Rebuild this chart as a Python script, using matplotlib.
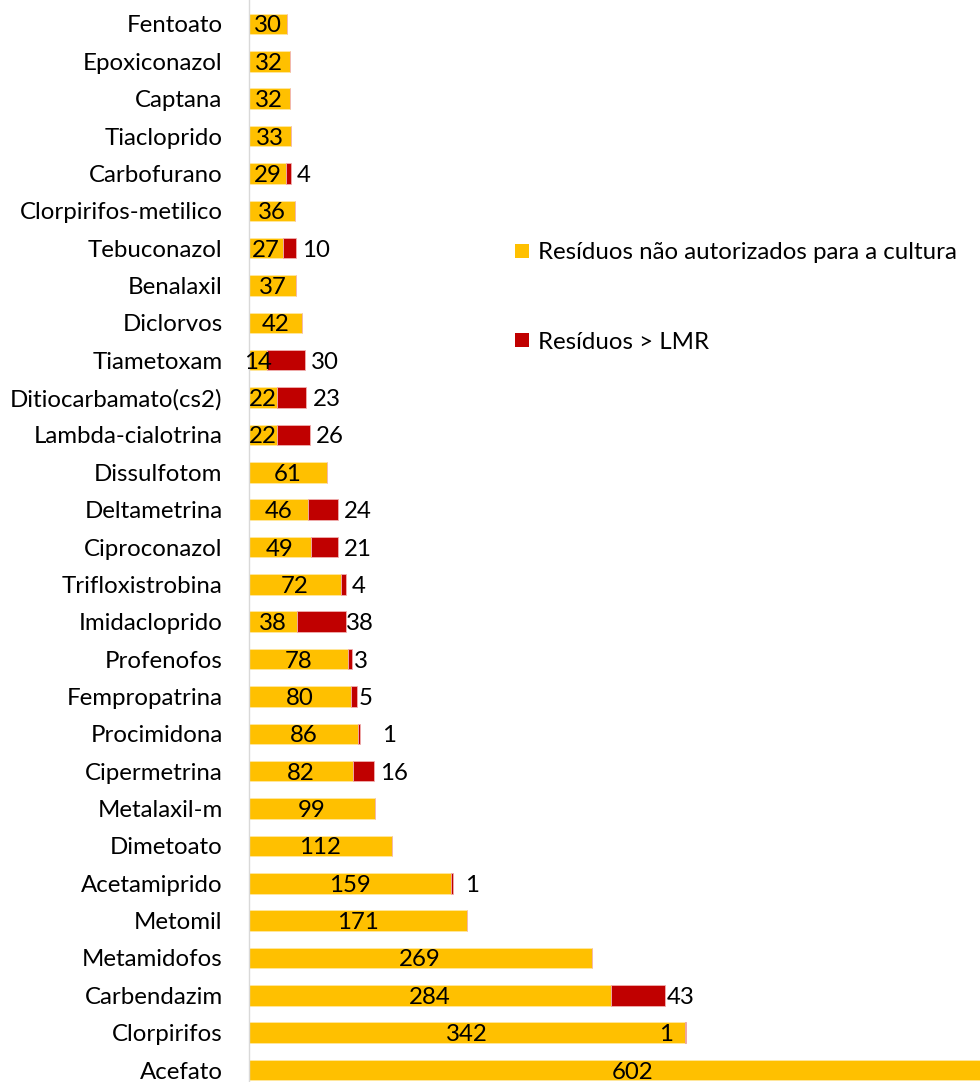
import matplotlib.pyplot as plt
from matplotlib.patches import Patch

plt.rcParams['font.family'] = ['Lato', 'DejaVu Sans']

YELLOW = "#FFC000"
RED = "#C00000"
INK = "#000000"
FS = 17.3

categories = [
    "Fentoato", "Epoxiconazol", "Captana", "Tiacloprido", "Carbofurano",
    "Clorpirifos-metilico", "Tebuconazol", "Benalaxil", "Diclorvos", "Tiametoxam",
    "Ditiocarbamato(cs2)", "Lambda-cialotrina", "Dissulfotom", "Deltametrina",
    "Ciproconazol", "Trifloxistrobina", "Imidacloprido", "Profenofos",
    "Fempropatrina", "Procimidona", "Cipermetrina", "Metalaxil-m", "Dimetoato",
    "Acetamiprido", "Metomil", "Metamidofos", "Carbendazim", "Clorpirifos", "Acefato",
]
nao_autorizados = [
    30, 32, 32, 33, 29, 36, 27, 37, 42, 14, 22, 22, 61, 46, 49, 72, 38, 78,
    80, 86, 82, 99, 112, 159, 171, 269, 284, 342, 602,
]
acima_lmr = [
    0, 0, 0, 0, 4, 0, 10, 0, 0, 30, 23, 26, 0, 24, 21, 4, 38, 3,
    5, 1, 16, 0, 0, 1, 0, 0, 43, 1, 0,
]

# extra horizontal gap (points) for the LMR labels that sit off the default spot
label_gap = {"Imidacloprido": 0.5, "Profenofos": 1, "Fempropatrina": 1,
             "Carbendazim": 1, "Procimidona": 16, "Acetamiprido": 9}

fig = plt.figure(figsize=(9.8, 10.82), dpi=100)
ax = fig.add_axes([0.254, 0.0, 0.746, 1.0])

y = list(range(len(categories)))
ax.barh(y, nao_autorizados, height=0.55, color=YELLOW, edgecolor="#FFE8A0",
        linewidth=0.6, label="Resíduos não autorizados para a cultura")
ax.barh(y, acima_lmr, left=nao_autorizados, height=0.55, color=RED,
        edgecolor="#F0B0B0", linewidth=0.6, label="Resíduos > LMR")

for i, (name, a, b) in enumerate(zip(categories, nao_autorizados, acima_lmr)):
    ax.text(a / 2, i, str(a), ha="center", va="center_baseline", fontsize=FS, color=INK)
    if b:
        end = a + b
        if name == "Clorpirifos":
            ax.annotate(str(b), (end, i), xytext=(-9, 0), textcoords="offset points",
                        ha="right", va="center_baseline", fontsize=FS, color=INK)
        else:
            gap = label_gap.get(name, 4.5)
            ax.annotate(str(b), (end, i), xytext=(gap, 0), textcoords="offset points",
                        ha="left", va="center_baseline", fontsize=FS, color=INK)

ax.set_xlim(0, 574)
ax.set_ylim(28.32, -0.642)
ax.set_yticks(y)
ax.set_yticklabels(categories, fontsize=FS, va="center_baseline")
ax.tick_params(axis="y", length=0, pad=19)
ax.set_xticks([])
for side in ("top", "right", "bottom"):
    ax.spines[side].set_visible(False)
ax.spines["left"].set_color("#D9D9D9")
ax.spines["left"].set_linewidth(1.0)

handles = [Patch(facecolor=YELLOW, label="Resíduos não autorizados para a cultura"),
           Patch(facecolor=RED, label="Resíduos > LMR")]
fig.legend(handles=handles, loc="upper left", bbox_to_anchor=(0.516, 0.785),
           frameon=False, fontsize=FS, handlelength=0.55, handleheight=0.55,
           handletextpad=0.4, labelspacing=2.85, borderaxespad=0)

fig.savefig("out.png", dpi=100, facecolor="white")
